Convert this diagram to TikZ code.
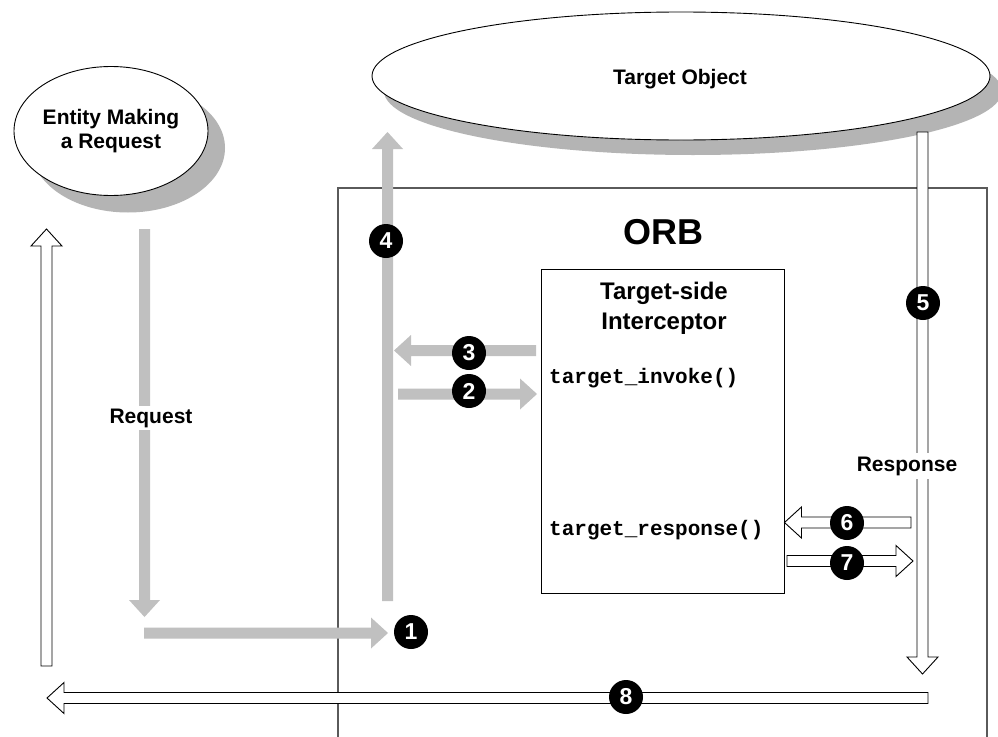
\documentclass[tikz,border=0pt]{standalone}
\usepackage{fontspec}
\setmainfont{Liberation Sans}
\newfontfamily\codefont{Liberation Mono}
\usetikzlibrary{shapes.geometric,calc,shadows}
\definecolor{arrgray}{HTML}{C0C0C0}
\definecolor{shgray}{HTML}{B4B4B4}
\definecolor{orbgray}{HTML}{5A5A5A}
\tikzset{
  lbl/.style={font=\fontsize{21}{24}\selectfont\bfseries, align=center},
  codelbl/.style={font=\fontsize{21}{24}\selectfont\codefont\bfseries, anchor=west, inner sep=0pt},
  cloud/.style={ellipse, draw=black, line width=0.9pt, fill=white, inner sep=0pt},
  numdot/.style={circle, fill=black, minimum size=34pt, inner sep=0pt, text=white,
    font=\fontsize{23}{23}\selectfont\bfseries},
  grayarr/.style={fill=arrgray},
  whitearr/.style={fill=white, draw=black, line width=0.9pt},
}
\newcommand\blockarrow[3]{%
  \coordinate (tmpC) at ($(#3)!17pt!(#2)$);
  \path[#1] ($(#2)!5.5pt!90:(#3)$) -- ($(tmpC)!5.5pt!90:(#3)$) -- ($(tmpC)!15.5pt!90:(#3)$)
    -- (#3) -- ($(tmpC)!15.5pt!-90:(#3)$) -- ($(tmpC)!5.5pt!-90:(#3)$)
    -- ($(#2)!5.5pt!-90:(#3)$) -- cycle;}
\begin{document}
\begin{tikzpicture}[x=1pt,y=-1pt]
\fill[white] (0,0) rectangle (998,736);
\useasboundingbox (0,0) rectangle (998,736);
\begin{scope}
\clip (0,0) rectangle (998,736);
% ORB frame
\node[draw=orbgray, line width=1.1pt, minimum width=649pt, minimum height=557pt, inner sep=0pt]
  (orb) at (662.5,466.5) {};
\node[font=\fontsize{36}{36}\selectfont\bfseries] (orblbl) at (663,232) {ORB};
% entities
\node[cloud, minimum width=194pt, minimum height=129pt,
  drop shadow={shadow xshift=17pt, shadow yshift=-17pt, fill=shgray, opacity=1}]
  (ent) at (111,131) {};
\node[lbl] (entlbl) at (111,131) {Entity Making\\a Request};
\node[cloud, minimum width=618pt, minimum height=128pt,
  drop shadow={shadow xshift=12pt, shadow yshift=-15pt, fill=shgray, opacity=1}]
  (tgt) at (681,76) {};
\node[lbl] (tgtlbl) at (680,79) {Target Object};
% interceptor
\node[draw=black, line width=0.9pt, fill=white, minimum width=243pt, minimum height=324pt, inner sep=0pt]
  (icp) at (662.5,431) {};
\node[font=\fontsize{24}{30}\selectfont\bfseries, align=center] (icplbl) at (664,308) {Target-side\\Interceptor};
\node[codelbl] (inv) at (549,378) {target\_invoke()};
\node[codelbl] (resp) at (549,530) {target\_response()};
% arrow end points
\coordinate (rqA) at (144.5,229); \coordinate (rqB) at (144.5,617);
\coordinate (a1s) at (144,633);   \coordinate (a1e) at (388,633);
\coordinate (a4s) at (387.5,601); \coordinate (a4e) at (387.5,132);
\coordinate (a3s) at (536,350.5); \coordinate (a3e) at (394,350.5);
\coordinate (a2s) at (398,394);   \coordinate (a2e) at (537,394);
\coordinate (a5s) at (922.5,132); \coordinate (a5e) at (922.5,674);
\coordinate (a6s) at (911,522.5); \coordinate (a6e) at (icp.east |- a6s);
\coordinate (a7s) at (787,561);   \coordinate (a7e) at (913,561);
\coordinate (a8s) at (928,698);   \coordinate (a8e) at (47,698);
\coordinate (upS) at (46.5,666);  \coordinate (upE) at (46.5,229);
% gray arrows
\blockarrow{grayarr}{rqA}{rqB}
\blockarrow{grayarr}{a1s}{a1e}
\blockarrow{grayarr}{a4s}{a4e}
\blockarrow{grayarr}{a3s}{a3e}
\blockarrow{grayarr}{a2s}{a2e}
% outlined arrows
\blockarrow{whitearr}{a5s}{a5e}
\blockarrow{whitearr}{a6s}{a6e}
\blockarrow{whitearr}{a7s}{a7e}
\blockarrow{whitearr}{a8s}{a8e}
\blockarrow{whitearr}{upS}{upE}
% labels on arrows
\node[lbl, fill=white, inner xsep=1pt, inner ysep=3pt] (reqlbl) at (151,418) {Request};
\node[lbl, fill=white, inner xsep=1pt, inner ysep=4pt] (rsplbl) at (907,466) {Response};
% numbers
\node[numdot] (n1) at (411,632) {1};
\node[numdot] (n2) at (469,391) {2};
\node[numdot] (n3) at (469,353) {3};
\node[numdot] (n4) at (386,241) {4};
\node[numdot] (n5) at (923,303) {5};
\node[numdot] (n6) at (847,523) {6};
\node[numdot] (n7) at (847,563) {7};
\node[numdot] (n8) at (626,697) {8};
\end{scope}
\end{tikzpicture}
\end{document}
